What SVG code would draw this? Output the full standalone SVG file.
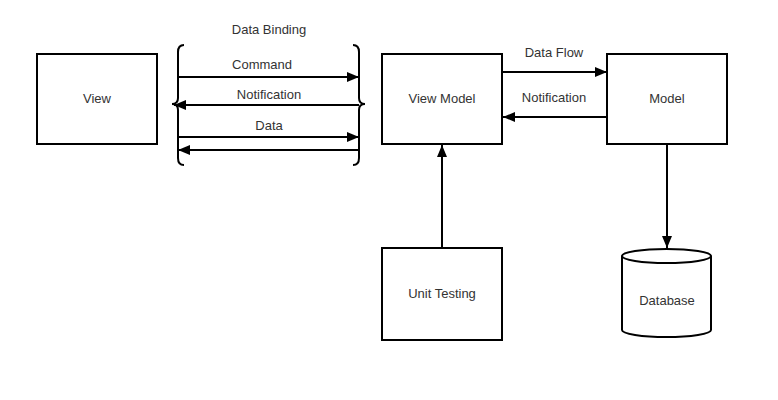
<svg xmlns="http://www.w3.org/2000/svg" width="778" height="400" viewBox="0 0 778 400">
<style>
.box{fill:#fff;stroke:#000;stroke-width:2}
.ln{fill:none;stroke:#000;stroke-width:2}
text{font-family:"Liberation Sans",Arial,sans-serif;font-size:13px;fill:#333;text-anchor:middle}
</style>
<defs>
<marker id="ah" markerWidth="12" markerHeight="10" refX="12" refY="5" orient="auto" markerUnits="userSpaceOnUse">
<path d="M0,0 L12,5 L0,10 Z" fill="#000"/>
</marker>
</defs>
<rect width="778" height="400" fill="#fff"/>
<g id="view"><rect class="box" x="37" y="54" width="120" height="90"/><text x="97" y="103">View</text></g>
<g id="viewmodel"><rect class="box" x="382" y="54" width="120" height="90"/><text x="442" y="103">View Model</text></g>
<g id="model"><rect class="box" x="607" y="54" width="120" height="90"/><text x="667" y="103">Model</text></g>
<g id="unittesting"><rect class="box" x="382" y="248" width="120" height="92"/><text x="442" y="298">Unit Testing</text></g>
<g id="database">
<path class="box" d="M622,256 A44.5,7 0 0 1 711,256 L711,330 A44.5,7 0 0 1 622,330 Z"/>
<path class="ln" d="M622,256 A44.5,7 0 0 0 711,256"/>
<text x="667" y="305">Database</text>
</g>
<g id="databinding">
<text x="269" y="34">Data Binding</text>
<path class="ln" d="M184,45 Q178,45 178,52 L178,98 Q178,104 172,104 Q178,104 178,110 L178,158 Q178,165 184,165"/>
<path class="ln" d="M353,45 Q359,45 359,52 L359,98 Q359,104 365,104 Q359,104 359,110 L359,158 Q359,165 353,165"/>
<text x="262" y="69">Command</text>
<text x="269" y="99">Notification</text>
<text x="269" y="130">Data</text>
</g>
<g id="connectors">
<line class="ln" x1="178" y1="77" x2="359" y2="77" marker-end="url(#ah)"/>
<line class="ln" x1="359" y1="105" x2="174" y2="105" marker-end="url(#ah)"/>
<line class="ln" x1="178" y1="137" x2="359" y2="137" marker-end="url(#ah)"/>
<line class="ln" x1="359" y1="150" x2="178" y2="150" marker-end="url(#ah)"/>
<line class="ln" x1="502" y1="72" x2="607" y2="72" marker-end="url(#ah)"/>
<text x="554" y="57">Data Flow</text>
<line class="ln" x1="607" y1="117" x2="503" y2="117" marker-end="url(#ah)"/>
<text x="554" y="102">Notification</text>
<line class="ln" x1="442" y1="248" x2="442" y2="145" marker-end="url(#ah)"/>
<line class="ln" x1="667" y1="144" x2="667" y2="248" marker-end="url(#ah)"/>
</g>
</svg>
